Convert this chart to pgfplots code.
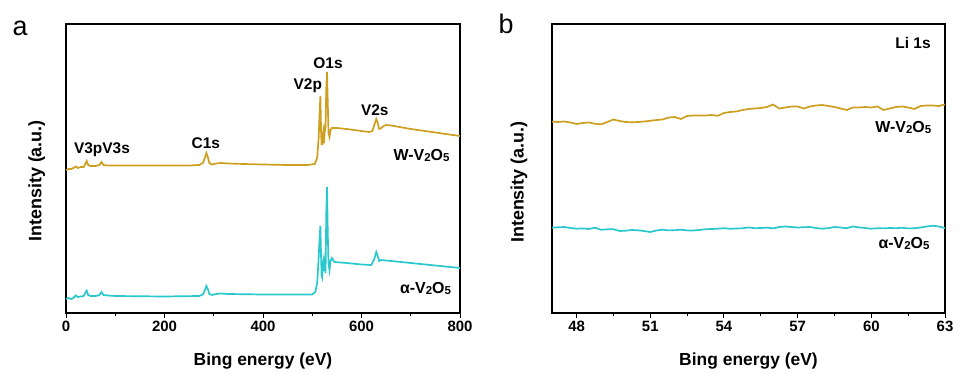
\documentclass[border=0pt]{standalone}
\usepackage{graphicx}
\usepackage{pgfplots}
\pgfplotsset{compat=1.18}
\usepackage{fontspec}
\setmainfont{Liberation Sans}
\definecolor{gold}{RGB}{206,158,30}
\definecolor{cyanl}{RGB}{40,200,204}
\newcommand{\sub}[1]{\raisebox{-0.12ex}{\scalebox{0.72}{#1}}}
\pgfplotsset{
  myax/.style={
    scale only axis, width=393bp, height=289bp, anchor=south west,
    ymin=0, ymax=289, ytick=\empty,
    axis line style={line width=1.1pt},
    every tick/.style={line width=0.9pt, black},
    tick align=outside, xtick pos=bottom,
    major tick length=5bp, minor tick length=3bp,
    minor x tick num=1,
    tick label style={font=\fontsize{15}{16}\selectfont\bfseries},
    /pgf/number format/assume math mode=true,
    xlabel={\fontsize{17.5}{19}\selectfont\bfseries Bing energy (eV)},
    ylabel={\fontsize{18}{19}\selectfont\bfseries Intensity (a.u.)},
    xlabel style={at={(axis description cs:0.5,-0.166)}, anchor=center},
    every axis plot/.style={line width=1.7pt},
    clip=false,
  }
}
\begin{document}
\begin{tikzpicture}
\path[use as bounding box] (0,0) rectangle (959bp,373bp);
\node[font=\fontsize{27}{29}\selectfont, inner sep=0pt] at (20bp,345bp) {a};
\node[font=\fontsize{27}{29}\selectfont, inner sep=0pt] at (506bp,349bp) {b};
\begin{axis}[myax, at={(66bp,60bp)}, width=394bp,
  xmin=0, xmax=800, xtick={0,200,400,600,800},
  ylabel style={at={(axis description cs:-0.074,0.457)}, anchor=center}]
\addplot[gold] coordinates {
(0,143)(5,144)(10,144)(15,145)(20,146.5)(24,145)(30,146)(36,146)(40,150)(42,152)(45,148)(50,147)(60,147)(68,148)(72,151)(76,148)(85,147.5)(100,147.5)(150,147.5)(200,147.5)(250,147.5)(270,148)(278,150)(282,155)(285,160)(288,156)(291,150)(296,148.5)(305,149.5)(315,150)(330,149.5)(360,149)(400,148.5)(450,148)(490,148)(505,149)(510,155)(513,175)(515,200)(516.5,217)(518,180)(519,168)(520,175)(521,168)(522,180)(523,183)(524,170)(525,180)(527,186)(528.5,225)(530,241)(531.5,210)(533,180)(535,176)(537,183)(540,185)(550,185)(570,184)(600,182)(615,181)(622,182)(626,188)(630,194)(633,190)(636,184)(640,185)(645,187)(650,188)(660,187.5)(700,184)(750,180.5)(800,177)};
\addplot[cyanl] coordinates {
(0,14)(5,15)(10,14)(15,15)(20,17.5)(24,16)(30,16.5)(36,17)(40,21)(42,22.5)(45,18)(50,17)(60,17)(68,18)(72,21)(76,18)(85,17.5)(100,17)(200,16.5)(270,17)(278,18.5)(282,23)(285,27)(288,24)(291,19)(296,18)(305,19)(315,19.5)(330,19)(400,18.5)(500,18.5)(506,21)(510,30)(513,55)(515,75)(516.5,87)(518,55)(519,38)(520,36)(521,45)(522,50)(523,53)(524,42)(525,48)(527,40)(528.5,100)(530,126)(531.5,80)(533,50)(535,43)(537,52)(540,55)(545,51)(570,50)(600,48.5)(620,48)(626,54)(630,61)(633,57)(636,52)(640,53)(660,52)(700,50)(750,47.5)(800,45)};
\begin{scope}[every node/.style={font=\fontsize{15.5}{16}\selectfont\bfseries}]
\node at (axis cs:73,163) {V3pV3s};
\node at (axis cs:284,170) {C1s};
\node at (axis cs:491,227) {V2p};
\node at (axis cs:532,250) {O1s};
\node at (axis cs:627,203) {V2s};
\node[font=\fontsize{16}{17}\selectfont\bfseries] at (axis cs:722,158) {W-V\sub{2}O\sub{5}};
\node[font=\fontsize{16}{17}\selectfont\bfseries] at (axis cs:730,25) {α-V\sub{2}O\sub{5}};
\end{scope}
\end{axis}
\begin{axis}[myax, at={(552bp,60bp)},
  xmin=47, xmax=63, xtick={48,51,54,57,60,63},
  ylabel style={at={(axis description cs:-0.084,0.453)}, anchor=center}]
\addplot[gold] coordinates {
(47.0,191.3)(47.25,191)(47.5,191.5)(47.75,190.5)(48.0,189)(48.25,190)(48.5,190.5)(48.75,189.2)(49.0,188.7)(49.25,191)(49.5,193.5)(49.75,192)(50.0,191)(50.25,190.7)(50.5,191)(50.75,191.5)(51.0,192.2)(51.25,193)(51.5,193.5)(51.75,195.5)(52.0,196)(52.25,194)(52.5,197)(52.75,197.5)(53.0,197.5)(53.25,197.5)(53.5,198)(53.75,197.2)(54.0,200)(54.25,201)(54.5,201.5)(54.75,203)(55.0,204)(55.25,204.5)(55.5,205)(55.75,206)(56.0,208.5)(56.25,204.5)(56.5,205.5)(56.75,206.5)(57.0,206.5)(57.25,204.5)(57.5,206.5)(57.75,207.5)(58.0,208)(58.25,207)(58.5,206)(58.75,204.5)(59.0,203)(59.25,205.5)(59.5,205.5)(59.75,206)(60.0,205.5)(60.25,206.5)(60.5,203)(60.75,204.5)(61.0,206)(61.25,206.5)(61.5,205.5)(61.75,204)(62.0,207)(62.25,207.5)(62.5,207.5)(62.75,207)(63.0,208.5)};
\addplot[cyanl] coordinates {
(47.0,85.3)(47.25,85.7)(47.5,86)(47.75,85)(48.0,84.3)(48.25,84.6)(48.5,84)(48.75,85.3)(49.0,83.2)(49.25,83.7)(49.5,83.8)(49.75,82)(50.0,82.3)(50.25,83)(50.5,82.7)(50.75,82)(51.0,81)(51.25,82.5)(51.5,83.3)(51.75,82.6)(52.0,82.8)(52.25,83.3)(52.5,82.6)(52.75,82.5)(53.0,83)(53.25,83.8)(53.5,84)(53.75,84.3)(54.0,84.8)(54.25,84.2)(54.5,84.5)(54.75,84.7)(55.0,85.5)(55.25,84.8)(55.5,85)(55.75,85.4)(56.0,84.6)(56.25,86)(56.5,86.5)(56.75,86)(57.0,85.5)(57.25,85.8)(57.5,86)(57.75,85)(58.0,84.3)(58.25,84.8)(58.5,86)(58.75,85.5)(59.0,84.8)(59.25,86.5)(59.5,85.6)(59.75,85)(60.0,84.3)(60.25,84.8)(60.5,84.6)(60.75,85)(61.0,84.8)(61.25,85.2)(61.5,84.6)(61.75,84.7)(62.0,85.5)(62.25,86.5)(62.5,87.3)(62.75,86.5)(63.0,85)};
\node[font=\fontsize{15.5}{16}\selectfont\bfseries] at (axis cs:61.7,270) {Li 1s};
\node[font=\fontsize{16}{17}\selectfont\bfseries] at (axis cs:61.3,186) {W-V\sub{2}O\sub{5}};
\node[font=\fontsize{16}{17}\selectfont\bfseries] at (axis cs:61.33,70) {α-V\sub{2}O\sub{5}};
\end{axis}
\end{tikzpicture}
\end{document}
